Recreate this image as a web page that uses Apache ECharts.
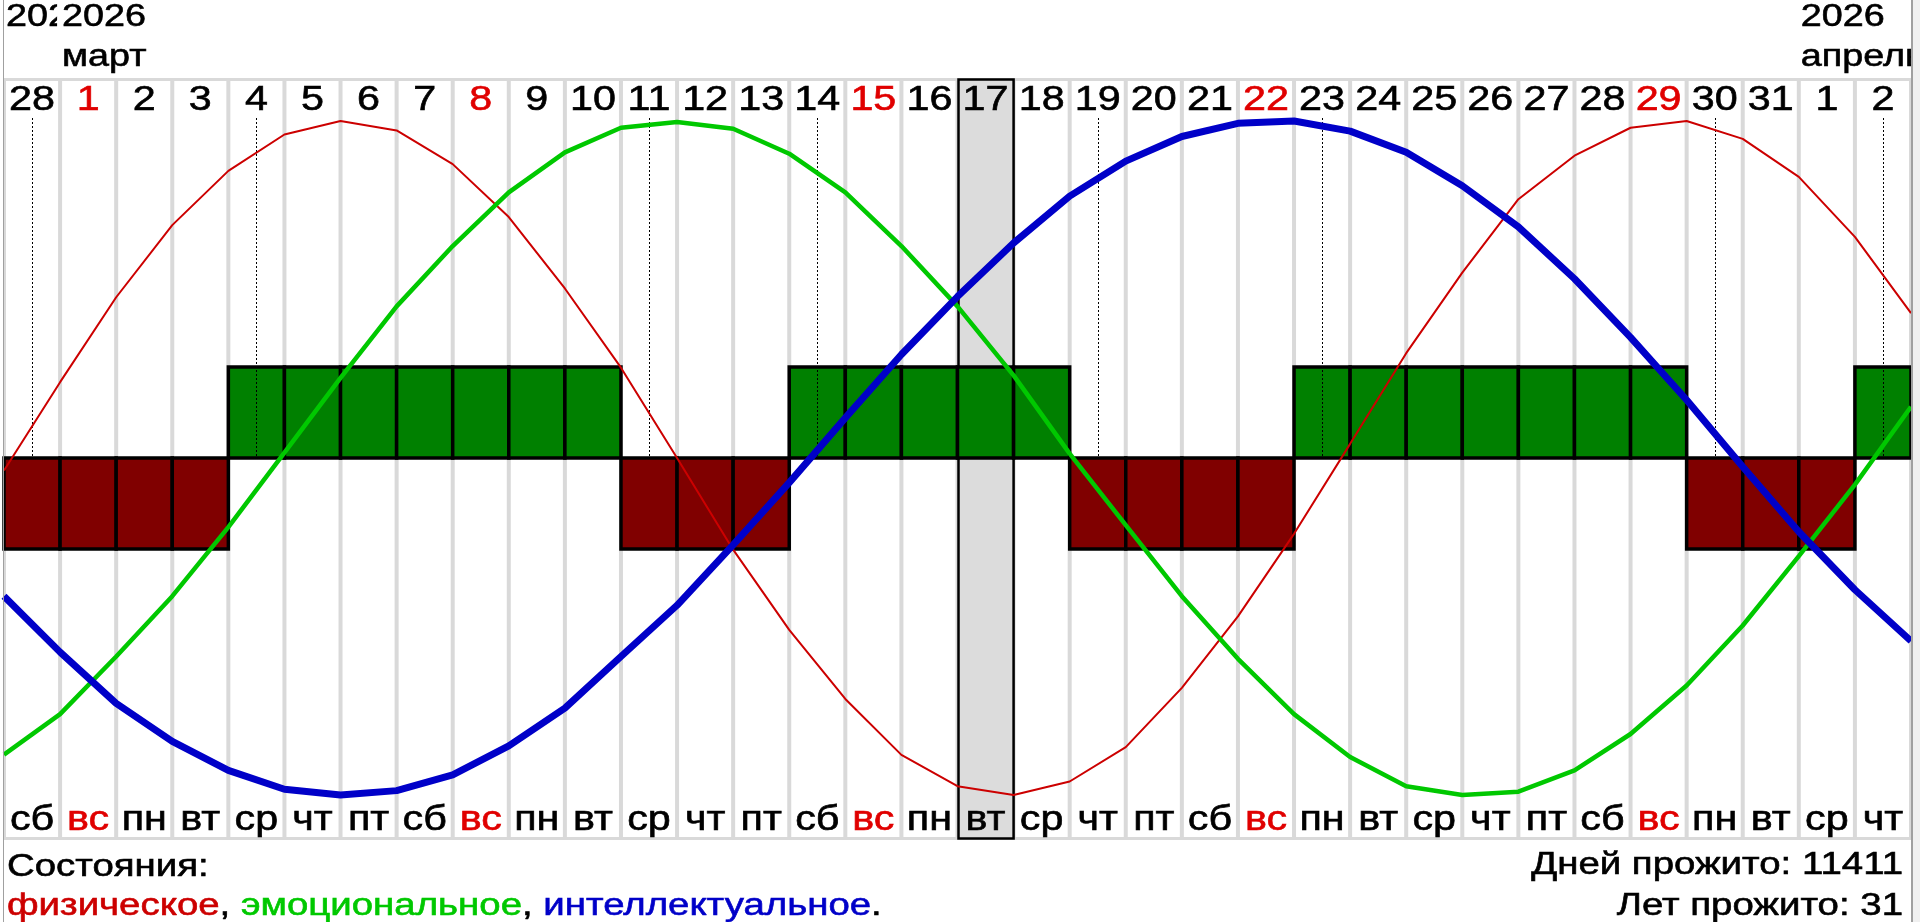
<!DOCTYPE html>
<html><head><meta charset="utf-8">
<script src="https://cdn.jsdelivr.net/npm/echarts@6/dist/echarts.min.js"></script>
<style>html,body{margin:0;padding:0;background:#fff;overflow:hidden}#c{width:1920px;height:922px}</style>
</head><body><div id="c"></div>
<script>
// ---------- data ----------
const dayNumbers = [28,1,2,3,4,5,6,7,8,9,10,11,12,13,14,15,16,17,18,19,20,21,22,23,24,25,26,27,28,29,30,31,1,2];
const weekdays = ['сб','вс','пн','вт','ср','чт','пт','сб','вс','пн','вт','ср','чт','пт','сб','вс','пн','вт','ср','чт','пт','сб','вс','пн','вт','ср','чт','пт','сб','вс','пн','вт','ср','чт'];
const physical = [-3.7,22.5,47.7,69.1,85.2,96.0,100,97.2,87.2,71.5,50.3,26.8,0,-27.2,-51,-71.5,-88.1,-97.4,-100,-96,-85.8,-68.2,-47,-22.5,4.2,31.1,55,76.8,89.7,98,100,94.7,83.4,65.6,43];
const emotional = [-88,-76,-58.9,-41,-20.5,1.6,23.8,45,62.9,78.8,90.7,98,99.7,97.7,90.3,78.8,62.9,45,24.5,1.3,-19.9,-41,-59.6,-76,-88.7,-97.4,-100,-99,-92.7,-81.9,-67.5,-49.7,-29.1,-7.9,15.2];
const intellectual = [-41,-57.6,-72.8,-84.1,-92.7,-98.3,-100,-98.7,-94,-85.4,-74.2,-58.9,-43.7,-25.8,-7.3,11.9,30.7,47.9,63.8,77.7,88.1,95.4,99.3,100,97,90.7,80.8,68.6,53.2,35.8,17.2,-2.6,-21.9,-39.1,-54.3];
const dayStates = [-27,-27,-27,-27,27,27,27,27,27,27,27,-27,-27,-27,27,27,27,27,27,-27,-27,-27,-27,27,27,27,27,27,27,27,-27,-27,-27,27];
const stateStarts = [0,4,11,14,19,23,30,33];
const todayIndex = 17;
const headerCols = [0,1,32];
const headerYears = ['2026','2026','2026'];
const headerMonths = ['','март','апрель'];
const legendTitle = 'Состояния:';
const daysLivedText = 'Дней прожито: 11411';
const yearsLivedText = 'Лет прожито: 31';

// ---------- style ----------
const FONT = "'Liberation Sans', Arial, sans-serif";
const SX = 1.18;
const C = {sep:'#d9d9d9', today:'#dcdcdc', up:'#008000', down:'#800000',
  phys:'#cc0000', emo:'#00c800', intel:'#0000c8', sun:'#e00000', border:'#a0a0a0'};

const chart = echarts.init(document.getElementById('c'), null, {renderer:'canvas'});
const idx = (arr) => arr.map((v,i)=>[i,0]);
const pts = (arr) => arr.map((v,i)=>[i,v]);

function txt(x, y, text, size, fill, align, sx){
  return {type:'text', x:x, y:y, scaleX:sx||SX, silent:true,
    style:{text:text, fontSize:size, fontFamily:FONT, fill:fill, stroke:fill, lineWidth:0.6,
      align:align||'center', verticalAlign:'middle'}};
}
const BSX = 1.2, BFS = 32;
function rich(fill){ return {fill:fill, stroke:fill, lineWidth:0.6, fontSize:BFS, fontFamily:FONT}; }

const option = {
  animation:false,
  backgroundColor:'#fff',
  grid:{left:4, right:9, top:121, bottom:127, show:false},
  xAxis:{type:'value', min:0, max:34, show:false},
  yAxis:{type:'value', min:-100, max:100, show:false},
  graphic:[
    {type:'rect', z:0, silent:true, shape:{x:3, y:78, width:1910, height:762}, style:{fill:C.sep}},
    {type:'rect', z:100, silent:true, shape:{x:3, y:0, width:1, height:922}, style:{fill:C.border}},
    {type:'rect', z:100, silent:true, shape:{x:1911, y:0, width:2, height:922}, style:{fill:C.border}},
    {type:'rect', z:100, silent:true, shape:{x:1913, y:0, width:7, height:922}, style:{fill:'#f0f0f0'}},
    Object.assign(txt(7, 867, legendTitle, BFS, '#000', 'left', BSX), {z:100}),
    {type:'text', z:100, x:7, y:906, scaleX:BSX, silent:true,
      style:{text:'{r|физическое}{k|, }{g|эмоциональное}{k|, }{b|интеллектуальное}{k|.}', fontSize:BFS, fontFamily:FONT, fill:'#000',
        align:'left', verticalAlign:'middle',
        rich:{r:rich(C.phys), g:rich(C.emo), b:rich(C.intel), k:rich('#000')}}},
    Object.assign(txt(1903, 865, daysLivedText, BFS, '#000', 'right', BSX), {z:100}),
    Object.assign(txt(1903, 906, yearsLivedText, BFS, '#000', 'right', BSX), {z:100})
  ],
  series:[
    { // white day columns
      type:'custom', z:1, silent:true, data:idx(dayNumbers),
      renderItem(params, api){
        const i = params.dataIndex;
        const x0 = api.coord([i,0])[0], x1 = api.coord([i+1,0])[0];
        return {type:'rect', shape:{x:x0+2, y:81, width:x1-x0-4, height:756}, style:{fill:'#fff'}};
      }
    },
    { // header: year / month
      type:'custom', z:2, silent:true, data:headerCols.map(c=>[c,0]),
      renderItem(params, api){
        const i = params.dataIndex;
        const x = api.coord([headerCols[i],0])[0];
        const children = [];
        if (i > 0) children.push({type:'rect', shape:{x:x-3, y:0, width:160, height:77}, style:{fill:'#fff'}});
        children.push(txt(x+2, 17, headerYears[i], 32, '#000', 'left'));
        if (headerMonths[i]) children.push(txt(x+2, 57, headerMonths[i], 32, '#000', 'left'));
        return {type:'group', children:children};
      }
    },
    { // today column
      type:'custom', z:3, silent:true, data:[[todayIndex,0]],
      renderItem(params, api){
        const x0 = api.coord([todayIndex,0])[0], x1 = api.coord([todayIndex+1,0])[0];
        return {type:'rect', shape:{x:x0+1, y:79.5, width:x1-x0-1, height:759}, style:{fill:C.today, stroke:'#000', lineWidth:2.5}};
      }
    },
    { // daily state blocks
      type:'custom', z:4, silent:true, data:pts(dayStates),
      renderItem(params, api){
        const i = params.dataIndex, v = api.value(1);
        const a = api.coord([i, v]), b = api.coord([i+1, 0]);
        return {type:'rect', shape:{x:a[0], y:Math.min(a[1],b[1]), width:b[0]-a[0], height:Math.abs(b[1]-a[1])},
          style:{fill: v > 0 ? C.up : C.down, stroke:'#000', lineWidth:3.5}};
      }
    },
    { // dotted markers at state changes
      type:'custom', z:5, silent:true, data:stateStarts.map(s=>[s,0]),
      renderItem(params, api){
        const s = stateStarts[params.dataIndex];
        const top = api.coord([s+0.5, 100]), bot = api.coord([s+0.5, 0]);
        const x = Math.round(top[0]) + 0.5;
        return {type:'line', shape:{x1:x, y1:top[1]-3, x2:x, y2:bot[1]}, style:{stroke:'#000', lineWidth:1, lineDash:[2,2]}};
      }
    },
    {type:'line', name:'физическое', z:6, data:pts(physical), showSymbol:false, symbol:'none', clip:false, silent:true,
      lineStyle:{color:C.phys, width:2}},
    {type:'line', name:'эмоциональное', z:7, data:pts(emotional), showSymbol:false, symbol:'none', clip:false, silent:true,
      lineStyle:{color:C.emo, width:4.5}},
    {type:'line', name:'интеллектуальное', z:8, data:pts(intellectual), showSymbol:false, symbol:'none', clip:false, silent:true,
      lineStyle:{color:C.intel, width:7}},
    { // day numbers and weekdays
      type:'custom', z:9, silent:true, data:idx(dayNumbers),
      renderItem(params, api){
        const i = params.dataIndex;
        const x = api.coord([i+0.5,0])[0];
        const col = weekdays[i] === 'вс' ? C.sun : '#000';
        return {type:'group', children:[
          txt(x, 100, String(dayNumbers[i]), 35, col, 'center'),
          txt(x, 820, weekdays[i], 35, col, 'center')
        ]};
      }
    }
  ]
};
chart.setOption(option);
</script>
</body></html>
